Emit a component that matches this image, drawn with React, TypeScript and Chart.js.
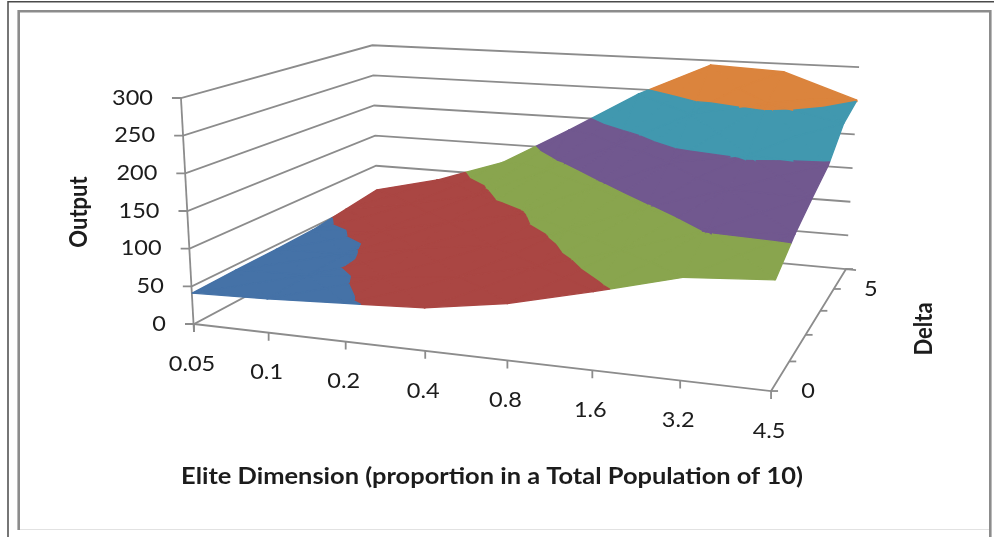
import React, { useEffect, useRef } from "react";
import { Chart, registerables } from "chart.js";

Chart.register(...registerables);

// Surface heights: one row per Delta step, front to back, one column per elite proportion.
const eliteLabels = ["0.05", "0.1", "0.2", "0.4", "0.8", "1.6", "3.2", "4.5"];
const deltaLabels = ["0", "", "", "", "5", ""];
const outputTicks = [0, 50, 100, 150, 200, 250, 300];
const outputRow0 = [41, 44, 49, 54, 70, 95, 122, 129];
const outputRow1 = [43, 46, 53, 64, 88, 118, 152, 156];
const outputRow2 = [44, 47, 65, 78, 108, 148, 180, 177];
const outputRow3 = [46, 54, 76, 97, 144, 186, 204, 197];
const outputRow4 = [53, 70, 92, 138, 184, 236, 258, 235];
const outputRow5 = [60, 85, 121, 180, 243, 293, 288, 251];
const surface = [outputRow0, outputRow1, outputRow2, outputRow3, outputRow4, outputRow5];

const bandColors = ["#4572a7", "#aa4643", "#89a54e", "#71588f", "#4198af", "#db843d"];
const AXIS_GRAY = "#8c8c8c";
const TEXT_FONT = "Lato";

type Pt = { x: number; y: number };
type Node3 = { u: number; v: number; val: number };

// Perspective map of the floor square, plus a height that shrinks with depth.
function project(u: number, v: number, val: number): Pt {
  const w = 1 - 0.1085 * u + 0.2503 * v;
  const fx = (194 + 493.4 * u + 278.6 * v) / w;
  const fy = (324 + 24.6 * u - 41.4 * v) / w;
  const t = val / 300;
  return {
    x: fx + (fx - 520) * 0.04 * t,
    y: fy - ((226 * (1 + 0.02 * u)) / w) * t,
  };
}

// Keeps the part of a polygon on one side of a height level.
function clipLevel(poly: Node3[], level: number, keepAbove: boolean): Node3[] {
  const out: Node3[] = [];
  const inside = (n: Node3) => (keepAbove ? n.val >= level : n.val <= level);
  poly.forEach((a, k) => {
    const b = poly[(k + 1) % poly.length];
    if (inside(a)) out.push(a);
    if (inside(a) !== inside(b)) {
      const s = (level - a.val) / (b.val - a.val);
      out.push({ u: a.u + (b.u - a.u) * s, v: a.v + (b.v - a.v) * s, val: level });
    }
  });
  return out;
}

function surfaceDatasets() {
  const sets: any[] = [];
  const cols = eliteLabels.length - 1;
  const rows = deltaLabels.length - 1;
  for (let j = rows - 1; j >= 0; j--) {
    for (let i = 0; i < cols; i++) {
      const node = (a: number, b: number): Node3 => ({ u: a / cols, v: b / rows, val: surface[b][a] });
      const corners = [node(i, j), node(i + 1, j), node(i + 1, j + 1), node(i, j + 1)];
      const center: Node3 = {
        u: (i + 0.5) / cols,
        v: (j + 0.5) / rows,
        val: corners.reduce((s, n) => s + n.val, 0) / 4,
      };
      corners.forEach((c, k) => {
        const tri = [c, corners[(k + 1) % 4], center];
        bandColors.forEach((color, b) => {
          const lo = outputTicks[b];
          const hi = outputTicks[b + 1];
          const part = clipLevel(clipLevel(tri, lo, true), hi, false);
          if (part.length < 3) return;
          const outline = part.map((n) => project(n.u, n.v, n.val));
          sets.push({
            type: "scatter",
            data: [...outline, outline[0]],
            showLine: true,
            fill: "shape",
            backgroundColor: color,
            borderColor: color,
            borderWidth: 1.4,
            borderJoinStyle: "round",
            pointRadius: 0,
            tension: 0,
            order: 1,
          });
        });
      });
    }
  }
  return sets;
}

function rule(points: Pt[]) {
  return {
    type: "scatter",
    data: points,
    showLine: true,
    fill: false,
    borderColor: AXIS_GRAY,
    borderWidth: 1.8,
    pointRadius: 0,
    tension: 0,
    order: 2,
  };
}

function frameRule(points: Pt[], color: string, width: number) {
  return { ...rule(points), borderColor: color, borderWidth: width };
}

function axisDatasets() {
  const sets: any[] = [];
  const offset = (p: Pt, dx: number, dy: number): Pt => ({ x: p.x + dx, y: p.y + dy });
  // Wall grid lines for each output level.
  outputTicks.forEach((val) => {
    const front = project(0, 0, val);
    sets.push(rule([offset(front, -9, 0), front, project(0, 1, val), project(1, 1, val)]));
  });
  // Vertical axis and the floor outline.
  sets.push(rule([project(0, 0, 300), offset(project(0, 0, 0), 0, 8)]));
  sets.push(rule([project(0, 0, 0), project(1, 0, 0), project(1, 1, 0), offset(project(1, 1, 0), 10, 1)]));
  eliteLabels.forEach((_, i) => {
    const p = project(i / (eliteLabels.length - 1), 0, 0);
    sets.push(rule([p, offset(p, 0, 8)]));
  });
  deltaLabels.forEach((_, j) => {
    const p = project(1, j / (deltaLabels.length - 1), 0);
    sets.push(rule([p, offset(p, 7, 0)]));
  });
  return sets;
}

function frameDatasets() {
  return [
    frameRule([{ x: 8, y: 537 }, { x: 8, y: 1.8 }, { x: 994, y: 1.8 }], "#4a4a4a", 1.5),
    frameRule([{ x: 18.7, y: 530 }, { x: 18.7, y: 11.2 }, { x: 990.3, y: 11.2 }, { x: 990.3, y: 537 }], "#8c8c8c", 2.6),
    frameRule([{ x: 20, y: 529.5 }, { x: 989, y: 529.5 }], "#e2e2e2", 1.2),
  ];
}

const chartText = {
  id: "chartText",
  afterDatasetsDraw(chart: any) {
    const { ctx, scales } = chart;
    const px = (p: Pt): Pt => ({ x: scales.x.getPixelForValue(p.x), y: scales.y.getPixelForValue(p.y) });
    const put = (text: string, at: Pt, font: string, align: CanvasTextAlign, stretch: number, angle = 0) => {
      if (!text) return;
      const q = px(at);
      ctx.save();
      ctx.translate(q.x, q.y);
      ctx.scale(stretch, 1);
      ctx.rotate(angle);
      ctx.font = font;
      ctx.fillStyle = "#1c1c1c";
      ctx.textAlign = align;
      ctx.textBaseline = "middle";
      ctx.fillText(text, 0, 0);
      ctx.restore();
    };
    const tickFont = `21px ${TEXT_FONT}`;
    const titleFont = `bold 22px ${TEXT_FONT}`;
    outputTicks.forEach((val) => {
      const p = project(0, 0, val);
      put(String(val), { x: p.x - 28, y: p.y }, tickFont, "right", 1.12);
    });
    eliteLabels.forEach((label, i) => {
      const p = project(i / (eliteLabels.length - 1), 0, 0);
      put(label, { x: p.x - 2, y: p.y + 40 }, tickFont, "center", 1.12);
    });
    deltaLabels.forEach((label, j) => {
      const p = project(1, j / (deltaLabels.length - 1), 0);
      put(label, { x: p.x + 37, y: p.y }, tickFont, "center", 1.12);
    });
    put("Elite Dimension (proportion in a Total Population of 10)", { x: 492, y: 477 }, titleFont, "center", 1.156);
    put("Output", { x: 79, y: 212 }, titleFont, "center", 1.1, -Math.PI / 2);
    put("Delta", { x: 924, y: 329 }, titleFont, "center", 1.1, -Math.PI / 2);
  },
};

export default function App() {
  const ref = useRef<HTMLCanvasElement | null>(null);
  useEffect(() => {
    const chart = new Chart(ref.current as HTMLCanvasElement, {
      type: "scatter",
      data: { datasets: [...surfaceDatasets(), ...axisDatasets(), ...frameDatasets()] },
      options: {
        animation: false,
        responsive: false,
        layout: { padding: 0 },
        plugins: { legend: { display: false }, tooltip: { enabled: false } },
        scales: {
          x: { type: "linear", min: 0, max: 994, display: false },
          y: { type: "linear", min: 0, max: 537, reverse: true, display: false },
        },
      },
      plugins: [chartText],
    } as any);
    return () => chart.destroy();
  }, []);
  return (
    <canvas
      ref={ref}
      width={994}
      height={537}
      style={{ position: "fixed", left: 0, top: 0, width: 994, height: 537, background: "#ffffff" }}
    />
  );
}
